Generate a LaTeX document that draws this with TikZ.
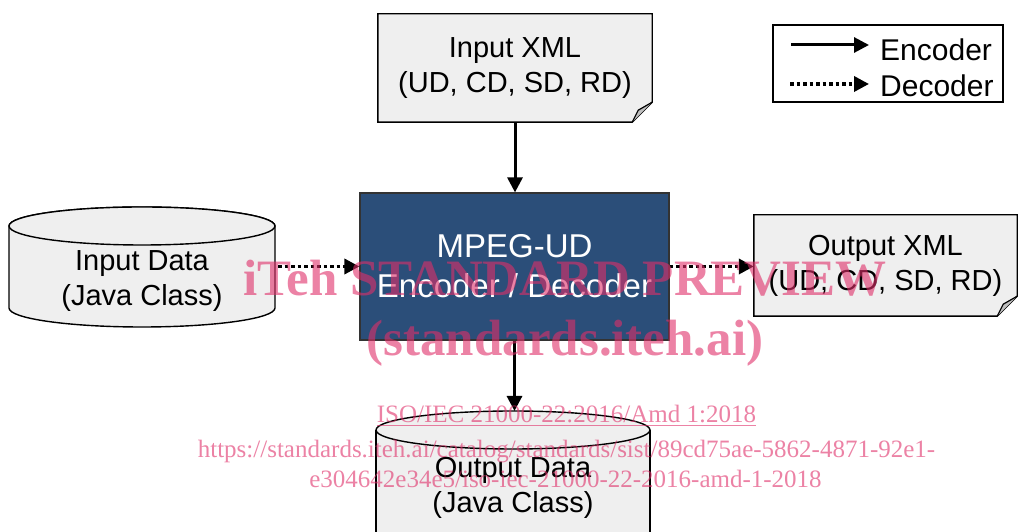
\documentclass[tikz,border=0pt]{standalone}
\usepackage{fontspec}
\setmainfont{Liberation Sans}
\newfontfamily\markfont{Liberation Serif}
\usepackage{xcolor}
\usepackage{tikz}
\usetikzlibrary{positioning, arrows.meta, calc, backgrounds}

\definecolor{udblue}{RGB}{43,78,121}
\definecolor{docgray}{RGB}{239,239,239}
\definecolor{markpink}{RGB}{223,47,105}

\begin{document}
\begin{tikzpicture}[
      x=1pt, y=1pt,
      doc/.style={
        align=center,
        font=\fontsize{29}{35}\selectfont
      },
      dbtext/.style={
        align=center,
        font=\fontsize{29}{35}\selectfont
      },
      shapeline/.style={
        draw=black,
        line width=1.4pt,
        fill=docgray
      },
      encoder/.style={
        -{Triangle[length=15pt,width=15pt]},
        line width=3pt
      },
      decoder/.style={
        -{Triangle[length=15pt,width=15pt]},
        line width=3.5pt,
        dash pattern=on 3.5pt off 3pt
      },
      legtext/.style={
        anchor=west,
        inner sep=0pt,
        font=\fontsize{30}{36}\selectfont
      },
      wmark/.style={
        text=markpink,
        text opacity=0.6,
        anchor=base
      }
    ]

    \useasboundingbox (0,0) rectangle (1020,532);

    % codec in the middle
    \node[draw=black!80, line width=1.2pt, fill=udblue, text=white,
          minimum width=309pt, minimum height=147pt, align=center,
          font=\fontsize{33}{40}\selectfont] (mpeg) at (514.5,265.5)
      {MPEG-UD\\Encoder / Decoder};

    % xml documents
    \node[doc, minimum width=274pt, minimum height=108pt] (inXml) at (515,464)
      {Input XML\\(UD, CD, SD, RD)};
    \node[doc, minimum width=263pt, minimum height=101pt] (outXml) at (885.5,266.5)
      {Output XML\\(UD, CD, SD, RD)};

    % java class data
    \node[dbtext, minimum width=266pt] (inData) at (142,251)
      {Input Data\\(Java Class)};
    \node[dbtext, minimum width=274pt] (outData) at (513,44.5)
      {Output Data\\(Java Class)};
    \coordinate (outTop) at (513,121);

    \begin{scope}[on background layer]
      \foreach \n in {inXml, outXml} {
        \draw[shapeline] (\n.north west) -- (\n.north east)
          -- ($(\n.south east)+(0,20)$) -- ($(\n.south east)+(-20,0)$)
          -- (\n.south west) -- cycle;
        \draw[line width=1.2pt, fill=black!25] ($(\n.south east)+(0,20)$)
          -- ($(\n.south east)+(-14,12)$) -- ($(\n.south east)+(-20,0)$);
      }
      \draw[shapeline] (9,306) -- (9,224)
        arc[start angle=180, end angle=360, x radius=133pt, y radius=19pt]
        -- (275,306)
        arc[start angle=0, end angle=180, x radius=133pt, y radius=19pt];
      \draw[shapeline] (142,306) ellipse [x radius=133pt, y radius=19pt];
      \draw[shapeline] (376,102) -- (376,-20) -- (650,-20) -- (650,102);
      \draw[shapeline] (513,102) ellipse [x radius=137pt, y radius=19pt];
    \end{scope}

    \draw[encoder] (inXml.south) -- (inXml.south |- mpeg.north);
    \draw[encoder] (mpeg.south) -- (mpeg.south |- outTop);
    \draw[decoder] ($(inData.east |- mpeg.west)+(3,0)$) -- (mpeg.west);
    \draw[decoder] (mpeg.east) -- (mpeg.east -| outXml.west);

    % legend
    \node[draw, line width=1.2pt, minimum width=230pt, minimum height=77pt]
      (legend) at (888,468.5) {};
    \node[legtext] (encLbl) at (880,482) {Encoder};
    \node[legtext] (decLbl) at (880,446) {Decoder};
    \coordinate (encStart) at (791,487);
    \coordinate (decStart) at (790,448);
    \draw[encoder] (encStart) -- ($(encStart -| encLbl.west)+(-11,0)$);
    \draw[decoder] (decStart) -- ($(decStart -| decLbl.west)+(-11,0)$);

    % preview stamp
    \node[wmark, font=\markfont\bfseries\fontsize{51}{55}\selectfont] (stamp) at (565,236)
      {iTeh STANDARD PREVIEW};
    \node[wmark, font=\markfont\bfseries\fontsize{51}{55}\selectfont] (site) at (565,176)
      {(standards.iteh.ai)};
    \node[wmark, font=\markfont\fontsize{25}{30}\selectfont] (stdno) at (566.5,109)
      {\underline{ISO/IEC 21000-22:2016/Amd 1:2018}};
    \node[wmark, font=\markfont\fontsize{25}{30}\selectfont] (url1) at (566.5,74)
      {https://standards.iteh.ai/catalog/standards/sist/89cd75ae-5862-4871-92e1-};
    \node[wmark, font=\markfont\fontsize{25}{30}\selectfont] (url2) at (565.5,44)
      {e304642e34e5/iso-iec-21000-22-2016-amd-1-2018};

    \end{tikzpicture}
\end{document}
